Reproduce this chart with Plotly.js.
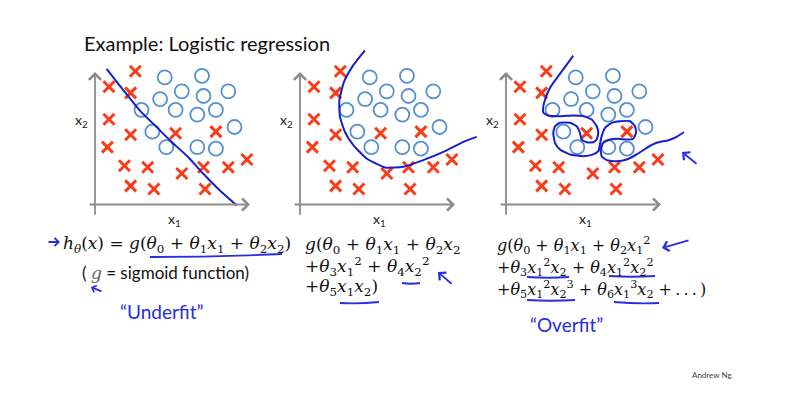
<!DOCTYPE html>
<html>
<head>
<meta charset="utf-8">
<script src="https://cdn.plot.ly/plotly-3.0.1.min.js"></script>
<style>body{margin:0;background:#fff}</style>
</head>
<body>
<div id="chart" style="width:786px;height:406px"></div>
<script>
// same training set in all three panels
var crossX = [2.6, 0.9, 2.3, 0.9, 2.3, 5.2, 7.8, 0.8, 1.9, 3.4, 5.6, 7.0, 8.6, 9.8, 2.3, 3.8, 7.1];
var crossY = [8.6, 7.6, 7.2, 5.5, 4.5, 4.6, 4.7, 3.7, 2.5, 2.4, 2.0, 2.4, 2.4, 2.9, 1.2, 1.0, 1.0];
var circleX = [4.5, 6.9, 5.6, 8.6, 4.2, 7.0, 3.0, 5.2, 6.6, 7.8, 3.7, 9.0, 4.6, 6.6, 7.8];
var circleY = [8.2, 8.3, 7.3, 7.3, 6.8, 7.0, 6.1, 6.1, 5.8, 6.1, 4.7, 5.0, 3.7, 3.7, 3.6];

// decision boundaries (hand drawn)
var lineX = [0.75, 1.5, 2.9, 3.98, 4.84, 6.02, 6.99, 8.06, 9.14];
var lineY = [8.75, 7.79, 6.06, 4.99, 4.13, 3.05, 1.98, 0.9, -0.06];
var quadX = [4.19, 3.44, 2.84, 2.54, 2.58, 2.90, 3.44, 4.30, 5.48, 6.67, 7.95, 9.25, 10.54, 11.4];
var quadY = [9.95, 8.99, 7.91, 6.73, 5.65, 4.68, 3.83, 2.97, 2.39, 2.43, 2.86, 3.39, 4.04, 4.36];
var wiggleX = [4.34, 3.92, 3.37, 2.84, 2.52, 2.41, 2.41, 2.73, 3.48, 4.34, 4.99, 5.53, 5.85, 5.95, 5.85, 5.63, 5.21, 4.88, 4.77, 4.56, 4.13, 3.48, 3.16, 3.05, 3.16, 3.48, 4.13, 4.99, 5.63, 5.95, 6.06, 6.17, 6.39, 6.82, 7.35, 8.0, 8.32, 8.39, 8.21, 7.79, 7.25, 6.71, 6.28, 6.11, 6.17, 6.5, 7.14, 7.79, 8.43, 9.08, 9.72, 10.47, 11.01, 11.48];
var wiggleY = [9.61, 9.03, 8.28, 7.53, 6.77, 6.34, 5.92, 5.74, 5.70, 5.74, 5.70, 5.48, 5.05, 4.63, 4.19, 4.02, 4.02, 4.19, 4.63, 5.05, 5.27, 5.27, 5.05, 4.63, 3.98, 3.55, 3.23, 3.12, 3.23, 3.44, 3.87, 4.41, 4.95, 5.27, 5.37, 5.37, 5.05, 4.63, 4.24, 4.19, 4.24, 4.19, 3.98, 3.55, 3.12, 2.86, 2.79, 2.90, 3.23, 3.66, 3.98, 4.15, 4.37, 4.66];

var W = 786, H = 406;
function px(x) { return x / W; }
function py(y) { return 1 - y / H; }

var red = 'rgb(250,60,25)';
var lightBlue = 'rgb(85,145,210)';
var ink = 'rgb(25,30,205)';
var pen = 'rgb(40,45,225)';

var panels = [
  {sfx: '', bx: lineX, by: lineY, x0: 95, xr: [-1, 11]},
  {sfx: '2', bx: quadX, by: quadY, x0: 300, xr: [-1, 11.6]},
  {sfx: '3', bx: wiggleX, by: wiggleY, x0: 506, xr: [-1, 12.6]}
];

var data = [];
var layout = {
  width: W, height: H,
  margin: {l: 0, r: 0, t: 0, b: 0},
  paper_bgcolor: '#fff', plot_bgcolor: 'rgba(0,0,0,0)',
  showlegend: false,
  annotations: [], shapes: []
};

var unit = 15.5, originY = 204.5, yr = [-1, 10.3];
var yDom = [py(originY - yr[0] * unit), py(originY - yr[1] * unit)];

panels.forEach(function (p) {
  var xa = 'x' + p.sfx, ya = 'y' + p.sfx;
  data.push({x: crossX, y: crossY, xaxis: xa, yaxis: ya, mode: 'markers', type: 'scatter',
    marker: {symbol: 'x-thin', size: 11, line: {color: red, width: 3}}, cliponaxis: false});
  data.push({x: circleX, y: circleY, xaxis: xa, yaxis: ya, mode: 'markers', type: 'scatter',
    marker: {symbol: 'circle-open', size: 14, color: lightBlue, line: {color: lightBlue, width: 1.8}}, cliponaxis: false});
  data.push({x: p.bx, y: p.by, xaxis: xa, yaxis: ya, mode: 'lines', type: 'scatter',
    line: {color: ink, width: 2, shape: 'spline', smoothing: 0.5}, cliponaxis: false});

  var dom = [px(p.x0 + p.xr[0] * unit), px(p.x0 + p.xr[1] * unit)];
  var ax = {domain: dom, range: p.xr, showgrid: false, zeroline: false, showticklabels: false, showline: false, fixedrange: true};
  var ay = {domain: yDom, range: yr, showgrid: false, zeroline: false, showticklabels: false, showline: false, fixedrange: true};
  if (p.sfx) { ax.anchor = ya; ay.anchor = xa; }
  layout['xaxis' + p.sfx] = ax;
  layout['yaxis' + p.sfx] = ay;

  // axis arrows
  layout.annotations.push({xref: xa, yref: ya, axref: xa, ayref: ya, x: 10, y: 0, ax: -0.45, ay: 0, text: '',
    showarrow: true, arrowhead: 4, arrowsize: 1.3, arrowwidth: 1.8, arrowcolor: '#8c8c8c'});
  layout.annotations.push({xref: xa, yref: ya, axref: xa, ayref: ya, x: 0, y: 8.55, ax: 0, ay: -0.75, text: '',
    showarrow: true, arrowhead: 4, arrowsize: 1.3, arrowwidth: 1.8, arrowcolor: '#8c8c8c'});
  layout.annotations.push({xref: xa, yref: ya, x: 5.1, y: -0.95, text: 'x<sub>1</sub>', showarrow: false,
    font: {family: 'Lato, sans-serif', size: 14, color: '#222'}});
  layout.annotations.push({xref: xa, yref: ya, x: -0.9, y: 5.45, text: 'x<sub>2</sub>', showarrow: false,
    font: {family: 'Lato, sans-serif', size: 14, color: '#222'}});
});

var serif = {family: 'DejaVu Serif, serif', size: 17, color: '#111'};
var serifSm = {family: 'DejaVu Serif, serif', size: 16, color: '#111'};
function th(n) { return '<i>θ</i><sub>' + n + '</sub>'; }
function xv(n, p) { return '<i>x</i><sub>' + n + '</sub>' + (p ? '<sup>' + p + '</sup>' : ''); }

function txt(x, y, t, font, anchor) {
  layout.annotations.push({xref: 'paper', yref: 'paper', x: px(x), y: py(y), text: t, showarrow: false,
    xanchor: anchor || 'left', yanchor: 'middle', font: font});
}

txt(82, 43, 'Example: Logistic regression', {family: 'Lato, sans-serif', size: 20, color: '#111'});

txt(61, 244, '<i>h</i><sub><i>θ</i></sub>(<i>x</i>) = <i>g</i>(' + th(0) + ' + ' + th(1) + xv(1) + ' + ' + th(2) + xv(2) + ')', serif);
txt(80, 272, '( <span style="font-family:DejaVu Serif;color:#666"><i>g</i></span> = sigmoid function)', {family: 'Lato, sans-serif', size: 17, color: '#111'});

txt(303, 245, '<i>g</i>(' + th(0) + ' + ' + th(1) + xv(1) + ' + ' + th(2) + xv(2), serif);
txt(303, 266, '+' + th(3) + xv(1, 2) + ' + ' + th(4) + xv(2, 2), serif);
txt(303, 287, '+' + th(5) + xv(1) + xv(2) + ')', serif);

txt(495, 245, '<i>g</i>(' + th(0) + ' + ' + th(1) + xv(1) + ' + ' + th(2) + xv(1, 2), serifSm);
txt(495, 267, '+' + th(3) + xv(1, 2) + xv(2) + ' + ' + th(4) + xv(1, 2) + xv(2, 2), serifSm);
txt(495, 289, '+' + th(5) + xv(1, 2) + xv(2, 3) + ' + ' + th(6) + xv(1, 3) + xv(2) + ' +\u2009.\u2009.\u2009.\u2009)', serifSm);

var hand = {family: 'Lato, sans-serif', size: 19, color: pen};
txt(118, 311, '“Underfit”', hand);
txt(528, 324, '“Overfit”', hand);
txt(690, 375, 'Andrew Ng', {family: 'Lato, sans-serif', size: 8, color: '#444'}, 'left');

// pen arrows
function arrow(hx, hy, tx, ty, size) {
  layout.annotations.push({xref: 'paper', yref: 'paper', x: px(hx), y: py(hy), ax: tx - hx, ay: ty - hy, text: '',
    showarrow: true, arrowhead: 4, arrowsize: size || 1, arrowwidth: 1.8, arrowcolor: pen});
}
arrow(60, 242, 47, 242, 0.9);
arrow(91, 287, 103, 292, 0.8);
arrow(438, 272, 453, 285, 1.1);
arrow(662, 248, 690, 240, 1.1);
arrow(682, 152, 698, 165, 1.1);

// pen underlines
function under(x1, y1, x2, y2) {
  layout.shapes.push({type: 'path', xref: 'paper', yref: 'paper',
    path: 'M' + px(x1) + ',' + py(y1) + ' Q' + px((x1 + x2) / 2) + ',' + py((y1 + y2) / 2 + 1.5) + ' ' + px(x2) + ',' + py(y2),
    line: {color: pen, width: 1.8}});
}
under(150, 257, 282, 254);
under(402, 283, 420, 283);
under(340, 303, 379, 302);
under(527, 277, 569, 277);
under(609, 276, 655, 276);
under(527, 300, 575, 300);
under(614, 302, 659, 303);

Plotly.newPlot('chart', data, layout, {displayModeBar: false, staticPlot: true});
</script>
</body>
</html>
